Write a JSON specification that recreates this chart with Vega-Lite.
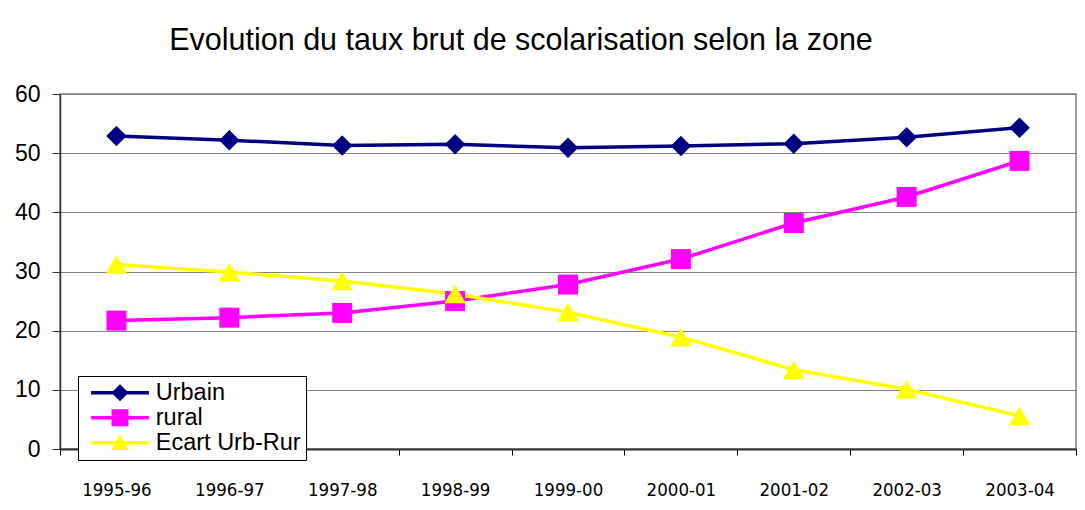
{
  "$schema": "https://vega.github.io/schema/vega-lite/v6.json",
  "autosize": {"type": "none"},
  "padding": {"left": 60, "top": 94, "right": 9, "bottom": 61},
  "width": 1016,
  "height": 355,
  "background": "white",
  "title": {
    "text": "Evolution du taux brut de scolarisation selon la zone",
    "font": "Liberation Sans",
    "fontSize": 30.5,
    "fontWeight": "normal",
    "color": "black",
    "anchor": "middle",
    "baseline": "alphabetic",
    "dx": -47,
    "offset": 3
  },
  "data": {
    "values": [
      {"annee": "1995-96", "serie": "Urbain", "taux": 52.9},
      {"annee": "1996-97", "serie": "Urbain", "taux": 52.2},
      {"annee": "1997-98", "serie": "Urbain", "taux": 51.3},
      {"annee": "1998-99", "serie": "Urbain", "taux": 51.5},
      {"annee": "1999-00", "serie": "Urbain", "taux": 50.9},
      {"annee": "2000-01", "serie": "Urbain", "taux": 51.2},
      {"annee": "2001-02", "serie": "Urbain", "taux": 51.6},
      {"annee": "2002-03", "serie": "Urbain", "taux": 52.7},
      {"annee": "2003-04", "serie": "Urbain", "taux": 54.3},
      {"annee": "1995-96", "serie": "rural", "taux": 21.7},
      {"annee": "1996-97", "serie": "rural", "taux": 22.2},
      {"annee": "1997-98", "serie": "rural", "taux": 23.0},
      {"annee": "1998-99", "serie": "rural", "taux": 25.0},
      {"annee": "1999-00", "serie": "rural", "taux": 27.8},
      {"annee": "2000-01", "serie": "rural", "taux": 32.1},
      {"annee": "2001-02", "serie": "rural", "taux": 38.2},
      {"annee": "2002-03", "serie": "rural", "taux": 42.6},
      {"annee": "2003-04", "serie": "rural", "taux": 48.7},
      {"annee": "1995-96", "serie": "Ecart Urb-Rur", "taux": 31.2},
      {"annee": "1996-97", "serie": "Ecart Urb-Rur", "taux": 29.9},
      {"annee": "1997-98", "serie": "Ecart Urb-Rur", "taux": 28.4},
      {"annee": "1998-99", "serie": "Ecart Urb-Rur", "taux": 26.2},
      {"annee": "1999-00", "serie": "Ecart Urb-Rur", "taux": 23.1},
      {"annee": "2000-01", "serie": "Ecart Urb-Rur", "taux": 18.9},
      {"annee": "2001-02", "serie": "Ecart Urb-Rur", "taux": 13.4},
      {"annee": "2002-03", "serie": "Ecart Urb-Rur", "taux": 10.1},
      {"annee": "2003-04", "serie": "Ecart Urb-Rur", "taux": 5.6}
    ]
  },
  "encoding": {
    "x": {
      "field": "annee",
      "type": "ordinal",
      "sort": null,
      "scale": {"type": "band", "paddingInner": 0, "paddingOuter": 0},
      "axis": {
        "title": null,
        "labelAngle": 0,
        "labelFont": "DejaVu Sans Condensed, Liberation Sans Narrow, sans-serif",
        "labelFontSize": 18.5,
        "labelColor": "black",
        "labelPadding": 25,
        "tickBand": "extent",
        "tickSize": 6,
        "tickColor": "black",
        "domainColor": "#333333",
        "domainWidth": 2,
        "grid": false
      }
    },
    "y": {
      "field": "taux",
      "type": "quantitative",
      "scale": {"domain": [0, 60], "nice": false, "zero": true},
      "axis": {
        "title": null,
        "values": [0, 10, 20, 30, 40, 50, 60],
        "labelFont": "Liberation Sans",
        "labelFontSize": 23,
        "labelColor": "black",
        "labelPadding": 12,
        "tickSize": 8,
        "tickColor": "#333333",
        "domainColor": "#333333",
        "domainWidth": 1.5,
        "grid": true,
        "gridColor": "#808080",
        "gridWidth": 1.2,
        "gridOpacity": 1
      }
    },
    "color": {
      "field": "serie",
      "type": "nominal",
      "scale": {"domain": ["Urbain", "rural", "Ecart Urb-Rur"], "range": ["#000080", "#FF00FF", "#FFFF00"]},
      "legend": {
        "title": null,
        "orient": "none",
        "legendX": 18,
        "legendY": 282,
        "fillColor": "white",
        "strokeColor": "black",
        "padding": 5,
        "rowPadding": 0,
        "labelFont": "Liberation Sans",
        "labelFontSize": 23.5,
        "labelColor": "black",
        "labelLimit": 400,
        "symbolSize": 289,
        "symbolStrokeWidth": 0,
        "symbolOffset": 25.25,
        "labelOffset": 24,
        "encode": {
          "symbols": {
            "update": {
              "shape": {"signal": "datum.value === 'Urbain' ? 'M0,-1L1,0L0,1L-1,0Z M-3.4,-0.22H3.4V0.22H-3.4Z' : datum.value === 'rural' ? 'M-1,-1H1V1H-1Z M-3.4,-0.22H3.4V0.22H-3.4Z' : 'M0,-0.95L1.05,0.85L-1.05,0.85Z M-3.4,-0.22H3.4V0.22H-3.4Z'"},
              "size": {"value": 289},
              "strokeWidth": {"value": 0},
              "fill": {"scale": "color", "field": "value"},
              "opacity": {"value": 1}
            }
          }
        }
      }
    }
  },
  "layer": [
    {
      "mark": {"type": "line", "strokeWidth": 3.5}
    },
    {
      "transform": [{"filter": "datum.serie === 'Urbain'"}],
      "mark": {"type": "point", "shape": "diamond", "filled": true, "size": 420, "opacity": 1, "strokeWidth": 0}
    },
    {
      "transform": [{"filter": "datum.serie === 'rural'"}],
      "mark": {"type": "point", "shape": "square", "filled": true, "size": 400, "opacity": 1, "strokeWidth": 0}
    },
    {
      "transform": [{"filter": "datum.serie === 'Ecart Urb-Rur'"}],
      "mark": {"type": "point", "shape": "triangle-up", "filled": true, "size": 460, "opacity": 1, "strokeWidth": 0}
    }
  ],
  "config": {
    "view": {"stroke": "#808080", "strokeWidth": 1.5}
  }
}
